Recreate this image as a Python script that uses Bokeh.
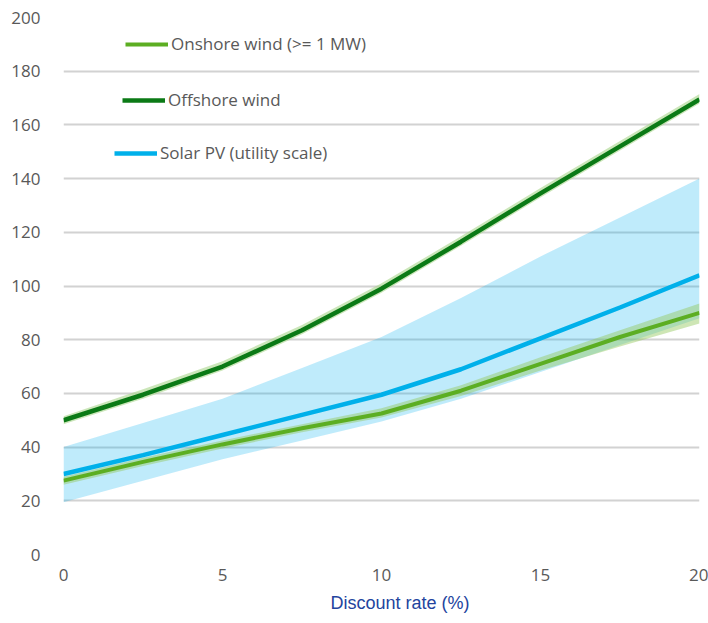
from bokeh.plotting import figure
from bokeh.models import Legend, LegendItem, Title, FixedTicker, Range1d, ColumnDataSource
from bokeh.embed import file_html
from bokeh.resources import INLINE

discount_rate = [0, 2.5, 5, 7.5, 10, 12.5, 15, 17.5, 20]

onshore = [27.5, 34.5, 41, 47, 52.5, 61, 71, 81, 90]
onshore_low = [26, 33, 39.5, 45.5, 51, 59, 68.5, 77.5, 86]
onshore_high = [29, 36, 42.5, 48.5, 54.5, 63, 73.5, 83.5, 93.5]

offshore = [50, 59.5, 70, 83.5, 99, 116.5, 134.5, 152, 169.5]
offshore_low = [48.5, 58, 68.5, 82, 97.5, 115, 133, 150.5, 168]
offshore_high = [51.5, 61.5, 72, 85.5, 101, 118.5, 136.5, 154, 171.5]

solar = [30, 37, 44.5, 52, 59.5, 69, 80.5, 92, 104]
solar_low = [19.5, 27.5, 35.5, 42.5, 49.5, 58, 68, 78, 88]
solar_high = [40, 49, 58, 69.5, 81, 95.5, 111, 125.5, 140]

y_ticks = [0, 20, 40, 60, 80, 100, 120, 140, 160, 180, 200]
x_ticks = [0, 5, 10, 15, 20]
x_title = "Discount rate (%)"
names = ["Onshore wind (>= 1 MW)", "Offshore wind", "Solar PV (utility scale)"]

src = ColumnDataSource(dict(x=discount_rate, on=onshore, on_lo=onshore_low, on_hi=onshore_high,
                            off=offshore, off_lo=offshore_low, off_hi=offshore_high,
                            sol=solar, sol_lo=solar_low, sol_hi=solar_high))

p = figure(width=708, height=623, output_backend="svg", toolbar_location=None,
           x_range=Range1d(0, 20), y_range=Range1d(0, 200),
           min_border_left=63, min_border_right=9, min_border_top=17, min_border_bottom=69)
p.outline_line_color = None
p.background_fill_color = "white"
p.border_fill_color = "white"

p.xgrid.visible = False
p.ygrid.grid_line_color = "#d2d2d2"
p.ygrid.grid_line_width = 2
p.ygrid.ticker = FixedTicker(ticks=y_ticks)

for ax in (p.xaxis[0], p.yaxis[0]):
    ax.axis_line_color = None
    ax.major_tick_line_color = None
    ax.minor_tick_line_color = None
    ax.major_tick_out = 0
    ax.major_tick_in = 0
    ax.major_label_text_font = "Open Sans"
    ax.major_label_text_font_size = "17px"
    ax.major_label_text_color = "#595959"
p.yaxis.ticker = FixedTicker(ticks=y_ticks)
p.xaxis.ticker = FixedTicker(ticks=x_ticks)
p.yaxis.major_label_standoff = 23
p.xaxis.major_label_standoff = 14

p.varea(x="x", y1="sol_lo", y2="sol_hi", source=src, fill_color="#00b0f0", fill_alpha=0.25)
p.varea(x="x", y1="on_lo", y2="on_hi", source=src, fill_color="#92c85a", fill_alpha=0.45)
p.varea(x="x", y1="off_lo", y2="off_hi", source=src, fill_color="#a9d58a", fill_alpha=0.6)

r_on = p.line("x", "on", source=src, line_color="#5cae22", line_width=4)
r_off = p.line("x", "off", source=src, line_color="#0b7a16", line_width=4.5)
r_sol = p.line("x", "sol", source=src, line_color="#00b0ea", line_width=4.5)

def add_legend(renderer, label, loc):
    lg = Legend(items=[LegendItem(label=label, renderers=[renderer])], location=loc,
                padding=0, margin=0, spacing=0, border_line_alpha=0, background_fill_alpha=0,
                glyph_width=43, glyph_height=20, label_standoff=3,
                label_text_font="Open Sans", label_text_font_size="17px",
                label_text_color="#595959", label_height=20)
    p.add_layout(lg, "center")

add_legend(r_on, names[0], (62, 499))
add_legend(r_off, names[1], (59, 443))
add_legend(r_sol, names[2], (51, 390))

p.add_layout(Title(text=x_title, align="left", offset=267, standoff=15, vertical_align="bottom",
                   text_font="Liberation Sans", text_font_size="18px", text_font_style="normal",
                   text_color="#23449e"), "below")

open("out.html", "w").write(file_html(p, INLINE))
